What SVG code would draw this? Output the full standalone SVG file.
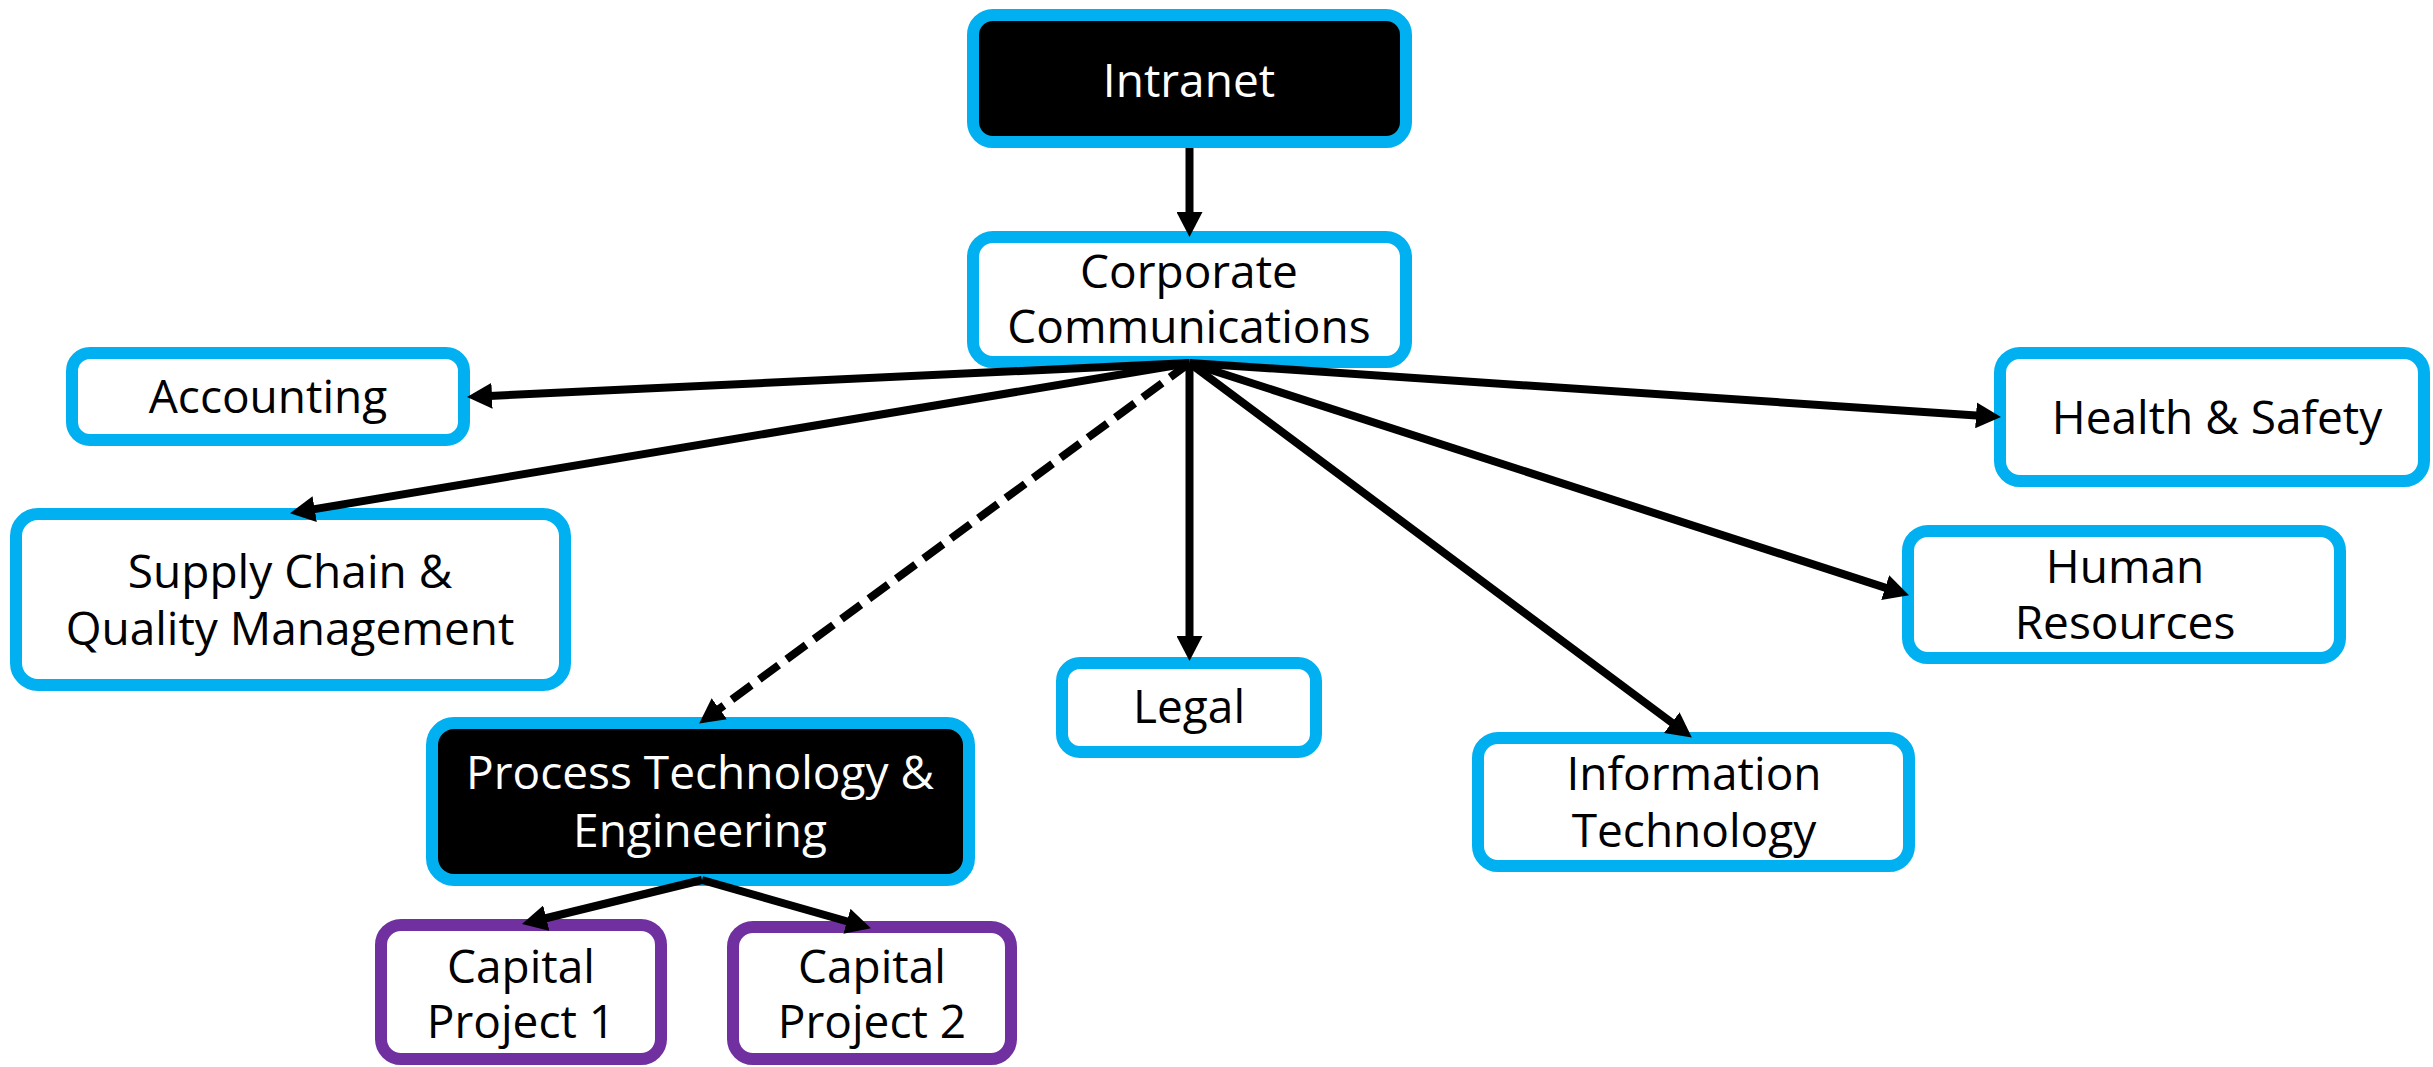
<svg xmlns="http://www.w3.org/2000/svg" width="2433" height="1067" viewBox="0 0 2433 1067">
<style>
.box{fill:#fff;stroke:#00B0F0;stroke-width:12}
.dark{fill:#000;stroke:#00B0F0;stroke-width:12}
.proj{fill:#fff;stroke:#7030A0;stroke-width:12}
text{font-family:"Open Sans","Liberation Sans",sans-serif;font-size:46px;text-anchor:middle;fill:#000}
text.w{fill:#fff}
.c{stroke:#000;stroke-width:8;fill:none;marker-end:url(#ah)}
.dash{stroke-dasharray:24 10}
</style>
<defs>
<marker id="ah" markerUnits="userSpaceOnUse" markerWidth="26" markerHeight="26" refX="8" refY="13" orient="auto" viewBox="0 0 26 26">
<path d="M0,0 L25,13 L0,26 z" fill="#000"/>
</marker>
</defs>
<rect width="2433" height="1067" fill="#fff"/>
<g id="intranet"><rect class="dark" x="973" y="15" width="433" height="127" rx="20"/><text class="w" x="1189" y="97">Intranet</text></g>
<g id="corporate"><rect class="box" x="973" y="237" width="433" height="125" rx="20"/><text x="1189" y="288">Corporate</text><text x="1189" y="343">Communications</text></g>
<g id="accounting"><rect class="box" x="72" y="353" width="392" height="87" rx="18"/><text x="268" y="413">Accounting</text></g>
<g id="supply"><rect class="box" x="16" y="514" width="549" height="171" rx="22"/><text x="290" y="588">Supply Chain &amp;</text><text x="290" y="645">Quality Management</text></g>
<g id="health"><rect class="box" x="2000" y="353" width="424" height="128" rx="20"/><text x="2217" y="434">Health &amp; Safety</text></g>
<g id="hr"><rect class="box" x="1908" y="531" width="432" height="127" rx="20"/><text x="2125" y="583">Human</text><text x="2125" y="639">Resources</text></g>
<g id="legal"><rect class="box" x="1062" y="663" width="254" height="89" rx="18"/><text x="1189" y="723">Legal</text></g>
<g id="it"><rect class="box" x="1478" y="738" width="431" height="128" rx="20"/><text x="1694" y="790">Information</text><text x="1694" y="847">Technology</text></g>
<g id="pte"><rect class="dark" x="432" y="723" width="537" height="157" rx="22"/><text class="w" x="700" y="789">Process Technology &amp;</text><text class="w" x="700" y="847">Engineering</text></g>
<g id="cp1"><rect class="proj" x="381" y="925" width="280" height="134" rx="20"/><text x="521" y="983">Capital</text><text x="521" y="1038">Project 1</text></g>
<g id="cp2"><rect class="proj" x="733" y="927" width="278" height="132" rx="20"/><text x="872" y="983">Capital</text><text x="872" y="1038">Project 2</text></g>
<g id="connectors">
<line class="c" x1="1189.5" y1="148" x2="1189.5" y2="220"/>
<line class="c" x1="1189.5" y1="363" x2="484" y2="396.2"/>
<line class="c" x1="1189.5" y1="363" x2="306.8" y2="510.4"/>
<line class="c dash" x1="1189.5" y1="363" x2="712.9" y2="713.5"/>
<line class="c" x1="1189.5" y1="363" x2="1189.5" y2="644"/>
<line class="c" x1="1189.5" y1="363" x2="1678.2" y2="727.4"/>
<line class="c" x1="1189.5" y1="363" x2="1892.8" y2="590.1"/>
<line class="c" x1="1189.5" y1="363" x2="1984" y2="415.9"/>
<line class="c" x1="702" y1="880" x2="538.5" y2="920"/>
<line class="c" x1="702" y1="880" x2="854.6" y2="923.5"/>
</g>
</svg>
